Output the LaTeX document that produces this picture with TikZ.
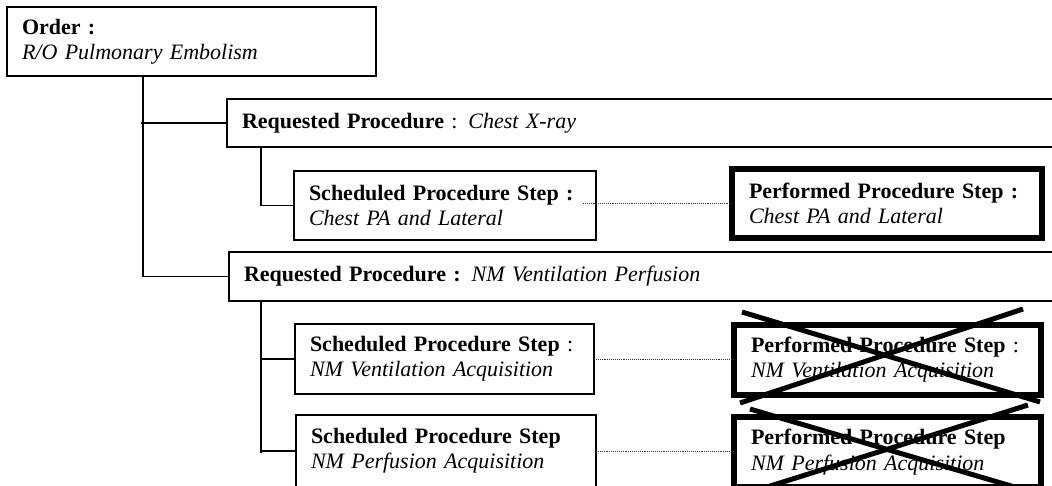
\documentclass[tikz,border=0pt]{standalone}
\usepackage{fontspec}
\setmainfont{Liberation Serif}
\begin{document}
\begin{tikzpicture}[x=1pt,y=-1pt,
  txt/.style={font=\fontsize{22}{25.3}\selectfont},
  thinbox/.style={txt,draw=black,line width=1.4pt,outer sep=0pt,anchor=north west,
    inner xsep=15pt,inner ysep=0pt,align=left},
  thickbox/.style={txt,draw=black,line width=6pt,outer sep=0pt,anchor=north west,
    inner xsep=17pt,inner ysep=0pt,align=left},
  link/.style={draw=black,line width=1.4pt},
  dots/.style={draw=black!80,densely dotted,line width=0.9pt},
  cross/.style={draw=black,line width=5pt}]
\useasboundingbox (0,0) rectangle (1052,485);
\clip (0,0) rectangle (1052,485);

% Order
\node[thinbox,minimum width=369pt,minimum height=69pt,text width=339pt] (order) at (7,7)
  {\textbf{Order :}\\\textit{R/O Pulmonary Embolism}};

% Requested procedures
\node[thinbox,minimum width=900pt,minimum height=48pt,text width=870pt] (rp1) at (227,99)
  {\textbf{Requested Procedure} : \textit{Chest X-ray}};
\node[thinbox,minimum width=900pt,minimum height=49pt,text width=870pt] (rp2) at (229,252)
  {\textbf{Requested Procedure :} \textit{NM Ventilation Perfusion}};

% Scheduled procedure steps
\node[thinbox,minimum width=302pt,minimum height=69pt,text width=272pt] (sps1) at (294,171)
  {\textbf{Scheduled Procedure Step :}\\\textit{Chest PA and Lateral}};
\node[thinbox,minimum width=299pt,minimum height=70pt,text width=269pt] (sps2) at (295,324)
  {\textbf{Scheduled Procedure Step} :\\\textit{NM Ventilation Acquisition}};
\node[thinbox,minimum width=300pt,minimum height=72pt,text width=270pt] (sps3) at (296,415)
  {\textbf{Scheduled Procedure Step}\\\textit{NM Perfusion Acquisition}};

% Performed procedure steps
\node[thickbox,minimum width=310pt,minimum height=69pt,text width=276pt] (pps1) at (732,169)
  {\textbf{Performed Procedure Step :}\\\textit{Chest PA and Lateral}};
\node[thickbox,minimum width=307pt,minimum height=69.5pt,text width=273pt] (pps2) at (734,325)
  {\textbf{Performed Procedure Step} :\\\textit{NM Ventilation Acquisition}};
\node[thickbox,minimum width=307pt,minimum height=70pt,text width=273pt] (pps3) at (734,417)
  {\textbf{Performed Procedure Step}\\\textit{NM Perfusion Acquisition}};

% Tree connectors
\coordinate (t) at (143,76);
\coordinate (r1) at (261,147);
\coordinate (r2) at (261,301);
\draw[link] (t) |- (rp2.west);
\draw[link] (rp1.west) -- ([xshift=-2pt]rp1.west -| t);
\draw[link] (r1) |- (sps1.west);
\draw[link] ([yshift=-2pt]r2 |- sps3.west) -- (r2);
\draw[link] (r2 |- sps3.west) -- (sps3.west);
\draw[link] (sps2.west) -- (sps2.west -| r2);

% Dotted links
\draw[dots] ([xshift=-13pt]sps1.east |- pps1.west) -- (pps1.west);
\draw[dots] (sps2.east |- pps2.west) -- (pps2.west);
\draw[dots] (sps3.east) -- (sps3.east -| pps3.west);

% Crosses
\draw[cross] ([shift={(8,-13)}]pps2.north west) -- ([shift={(-1,7.5)}]pps2.south east);
\draw[cross] ([shift={(-18,-16)}]pps2.north east) -- ([shift={(6,8.5)}]pps2.south west);
\draw[cross] ([shift={(16,-8)}]pps3.north west) -- ([shift={(-1,7.5)}]pps3.south east);
\draw[cross] ([shift={(-13,-12)}]pps3.north east) -- ([shift={(6,8.5)}]pps3.south west);
\end{tikzpicture}
\end{document}
